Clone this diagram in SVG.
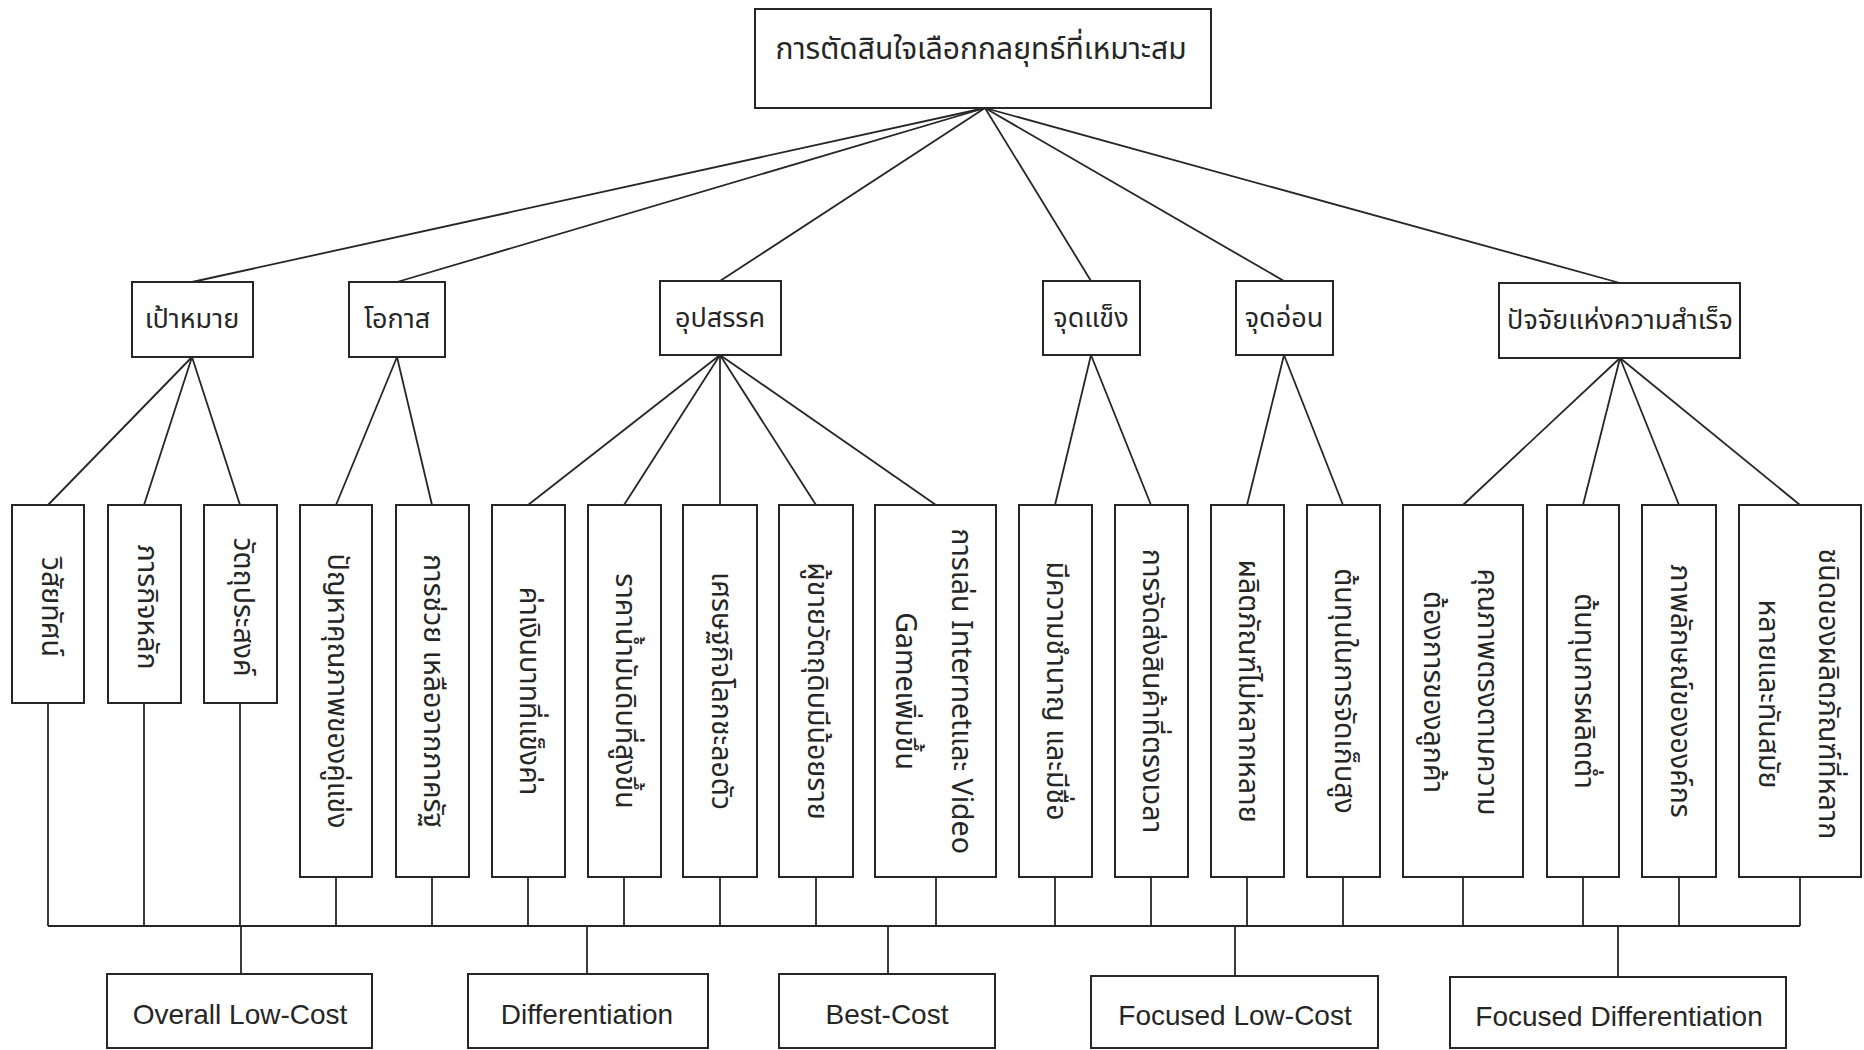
<svg xmlns="http://www.w3.org/2000/svg" width="1864" height="1050" viewBox="0 0 1864 1050">
<style>
.box{fill:#fff;stroke:#262626;stroke-width:2}
.ln{fill:none;stroke:#262626;stroke-width:1.8}
.th{font-family:"Noto Sans Thai","Noto Sans","DejaVu Sans",sans-serif;fill:#262626}
.root{font-size:30px}
.l2{font-size:27px}
.lf{font-size:28.5px}
.en{font-family:"Liberation Sans",Arial,sans-serif;font-size:28px;fill:#262626}
</style>
<rect width="1864" height="1050" fill="#fff"/>
<g id="connectors" class="ln">
<line x1="985" y1="108" x2="192" y2="282"/>
<line x1="985" y1="108" x2="397" y2="282"/>
<line x1="985" y1="108" x2="720" y2="281"/>
<line x1="985" y1="108" x2="1091" y2="281"/>
<line x1="985" y1="108" x2="1284" y2="281"/>
<line x1="985" y1="108" x2="1620" y2="283"/>
<line x1="192" y1="357" x2="48" y2="505"/>
<line x1="192" y1="357" x2="144" y2="505"/>
<line x1="192" y1="357" x2="240" y2="505"/>
<line x1="397" y1="357" x2="336" y2="505"/>
<line x1="397" y1="357" x2="432" y2="505"/>
<line x1="720" y1="355" x2="528" y2="505"/>
<line x1="720" y1="355" x2="624" y2="505"/>
<line x1="720" y1="355" x2="720" y2="505"/>
<line x1="720" y1="355" x2="816" y2="505"/>
<line x1="720" y1="355" x2="936" y2="505"/>
<line x1="1091" y1="355" x2="1055" y2="505"/>
<line x1="1091" y1="355" x2="1151" y2="505"/>
<line x1="1284" y1="355" x2="1247" y2="505"/>
<line x1="1284" y1="355" x2="1343" y2="505"/>
<line x1="1620" y1="358" x2="1463" y2="505"/>
<line x1="1620" y1="358" x2="1583" y2="505"/>
<line x1="1620" y1="358" x2="1679" y2="505"/>
<line x1="1620" y1="358" x2="1800" y2="505"/>
<path d="M48 703V926M144 703V926M240 703V926M336 877V926M432 877V926M528 877V926M624 877V926M720 877V926M816 877V926M936 877V926M1055 877V926M1151 877V926M1247 877V926M1343 877V926M1463 877V926M1583 877V926M1679 877V926M1800 877V926"/>
<path d="M48 926H1800"/>
<path d="M241 926V974M587 926V974M888 926V974M1235 926V976M1618 926V977"/>
</g>
<g id="root"><rect class="box" x="755" y="9" width="456" height="99"/><text class="th root" x="981" y="50" text-anchor="middle" dominant-baseline="central">การตัดสินใจเลือกกลยุทธ์ที่เหมาะสม</text></g>
<g id="goal"><rect class="box" x="132" y="282" width="121" height="75"/><text class="th l2" x="192" y="319" text-anchor="middle" dominant-baseline="central">เป้าหมาย</text></g>
<g id="opportunity"><rect class="box" x="349" y="282" width="96" height="75"/><text class="th l2" x="397" y="319" text-anchor="middle" dominant-baseline="central">โอกาส</text></g>
<g id="threat"><rect class="box" x="660" y="281" width="121" height="74"/><text class="th l2" x="720" y="318" text-anchor="middle" dominant-baseline="central">อุปสรรค</text></g>
<g id="strength"><rect class="box" x="1043" y="281" width="97" height="74"/><text class="th l2" x="1091" y="318" text-anchor="middle" dominant-baseline="central">จุดแข็ง</text></g>
<g id="weakness"><rect class="box" x="1236" y="281" width="97" height="74"/><text class="th l2" x="1284" y="318" text-anchor="middle" dominant-baseline="central">จุดอ่อน</text></g>
<g id="ksf"><rect class="box" x="1499" y="283" width="241" height="75"/><text class="th l2" x="1620" y="320" text-anchor="middle" dominant-baseline="central">ปัจจัยแห่งความสำเร็จ</text></g>

<g id="leaf1"><rect class="box" x="12" y="505" width="72" height="198"/><text class="th lf" text-anchor="middle" dominant-baseline="central" transform="translate(50 607) rotate(90)">วิสัยทัศน์</text></g>
<g id="leaf2"><rect class="box" x="108" y="505" width="73" height="198"/><text class="th lf" text-anchor="middle" dominant-baseline="central" transform="translate(146 607) rotate(90)">ภารกิจหลัก</text></g>
<g id="leaf3"><rect class="box" x="204" y="505" width="73" height="198"/><text class="th lf" text-anchor="middle" dominant-baseline="central" transform="translate(242 607) rotate(90)">วัตถุประสงค์</text></g>
<g id="leaf4"><rect class="box" x="300" y="505" width="72" height="372"/><text class="th lf" text-anchor="middle" dominant-baseline="central" transform="translate(336 691) rotate(90)">ปัญหาคุณภาพของคู่แข่ง</text></g>
<g id="leaf5"><rect class="box" x="396" y="505" width="73" height="372"/><text class="th lf" text-anchor="middle" dominant-baseline="central" transform="translate(432 691) rotate(90)">การช่วย เหลือจากภาครัฐ</text></g>
<g id="leaf6"><rect class="box" x="492" y="505" width="73" height="372"/><text class="th lf" text-anchor="middle" dominant-baseline="central" transform="translate(528 691) rotate(90)">ค่าเงินบาทที่แข็งค่า</text></g>
<g id="leaf7"><rect class="box" x="588" y="505" width="73" height="372"/><text class="th lf" text-anchor="middle" dominant-baseline="central" transform="translate(624 691) rotate(90)">ราคาน้ำมันดิบที่สูงขึ้น</text></g>
<g id="leaf8"><rect class="box" x="683" y="505" width="74" height="372"/><text class="th lf" text-anchor="middle" dominant-baseline="central" transform="translate(720 691) rotate(90)">เศรษฐกิจโลกชะลอตัว</text></g>
<g id="leaf9"><rect class="box" x="779" y="505" width="74" height="372"/><text class="th lf" text-anchor="middle" dominant-baseline="central" transform="translate(816 691) rotate(90)">ผู้ขายวัตถุดิบมีน้อยราย</text></g>
<g id="leaf10"><rect class="box" x="875" y="505" width="121" height="372"/><text class="th lf" text-anchor="middle" dominant-baseline="central" transform="translate(933 691) rotate(90)"><tspan x="0" y="-28">การเล่น Internetและ Video</tspan><tspan x="0" y="28">Gameเพิ่มขึ้น</tspan></text></g>
<g id="leaf11"><rect class="box" x="1019" y="505" width="73" height="372"/><text class="th lf" text-anchor="middle" dominant-baseline="central" transform="translate(1055 691) rotate(90)">มีความชำนาญ และมีชื่อ</text></g>
<g id="leaf12"><rect class="box" x="1115" y="505" width="73" height="372"/><text class="th lf" text-anchor="middle" dominant-baseline="central" transform="translate(1151 691) rotate(90)">การจัดส่งสินค้าที่ตรงเวลา</text></g>
<g id="leaf13"><rect class="box" x="1211" y="505" width="73" height="372"/><text class="th lf" text-anchor="middle" dominant-baseline="central" transform="translate(1247 691) rotate(90)">ผลิตภัณฑ์ไม่หลากหลาย</text></g>
<g id="leaf14"><rect class="box" x="1307" y="505" width="73" height="372"/><text class="th lf" text-anchor="middle" dominant-baseline="central" transform="translate(1343 691) rotate(90)">ต้นทุนในการจัดเก็บสูง</text></g>
<g id="leaf15"><rect class="box" x="1403" y="505" width="120" height="372"/><text class="th lf" text-anchor="middle" dominant-baseline="central" transform="translate(1460 692) rotate(90)"><tspan x="0" y="-27">คุณภาพตรงตามความ</tspan><tspan x="0" y="27">ต้องการของลูกค้า</tspan></text></g>
<g id="leaf16"><rect class="box" x="1547" y="505" width="72" height="372"/><text class="th lf" text-anchor="middle" dominant-baseline="central" transform="translate(1583 691) rotate(90)">ต้นทุนการผลิตต่ำ</text></g>
<g id="leaf17"><rect class="box" x="1642" y="505" width="74" height="372"/><text class="th lf" text-anchor="middle" dominant-baseline="central" transform="translate(1679 691) rotate(90)">ภาพลักษณ์ขององค์กร</text></g>
<g id="leaf18"><rect class="box" x="1739" y="505" width="122" height="372"/><text class="th lf" text-anchor="middle" dominant-baseline="central" transform="translate(1798 694) rotate(90)"><tspan x="0" y="-30">ชนิดของผลิตภัณฑ์ที่หลาก</tspan><tspan x="0" y="30">หลายและทันสมัย</tspan></text></g>

<g id="s1"><rect class="box" x="107" y="974" width="265" height="74"/><text class="en" x="240" y="1024" text-anchor="middle">Overall Low-Cost</text></g>
<g id="s2"><rect class="box" x="468" y="974" width="240" height="74"/><text class="en" x="587" y="1024" text-anchor="middle">Differentiation</text></g>
<g id="s3"><rect class="box" x="779" y="974" width="216" height="74"/><text class="en" x="887" y="1024" text-anchor="middle">Best-Cost</text></g>
<g id="s4"><rect class="box" x="1091" y="976" width="287" height="72"/><text class="en" x="1235" y="1025" text-anchor="middle">Focused Low-Cost</text></g>
<g id="s5"><rect class="box" x="1450" y="977" width="336" height="71"/><text class="en" x="1619" y="1026" text-anchor="middle">Focused Differentiation</text></g>
</svg>
